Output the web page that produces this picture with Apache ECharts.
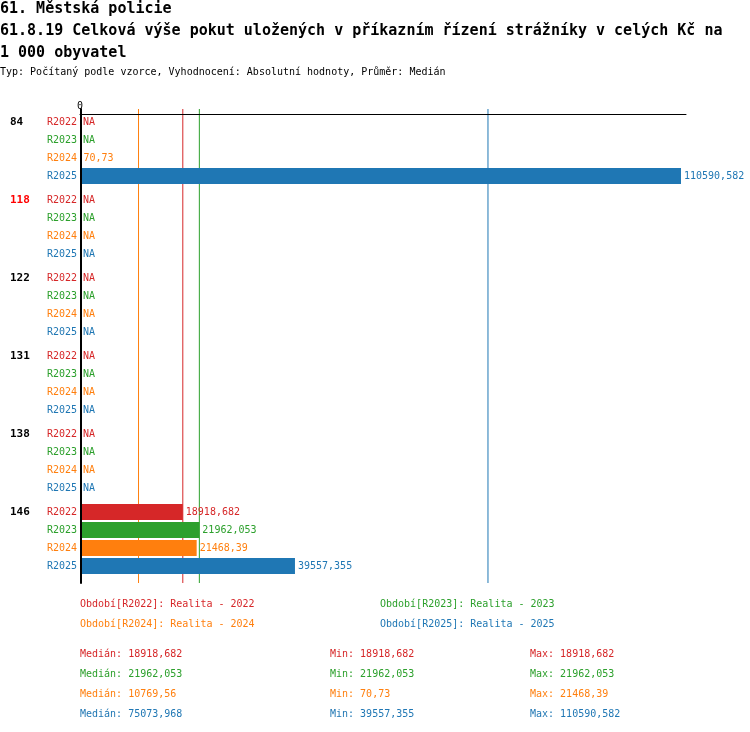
<!DOCTYPE html>
<html><head><meta charset="utf-8">
<script src="https://cdn.jsdelivr.net/npm/echarts@6/dist/echarts.min.js"></script>
<style>html,body{margin:0;padding:0;background:#fff}#c{width:750px;height:732px}</style>
</head><body><div id="c"></div>
<script>
const titleLines = ['61. Městská policie', '61.8.19 Celková výše pokut uložených v příkazním řízení strážníky v celých Kč na', '1 000 obyvatel'];
const subtitle = 'Typ: Počítaný podle vzorce, Vyhodnocení: Absolutní hodnoty, Průměr: Medián';
const categories = ['84', '118', '122', '131', '138', '146'];
const highlighted = '118';
const periods = ['R2022', 'R2023', 'R2024', 'R2025'];
const periodNames = ['Realita - 2022', 'Realita - 2023', 'Realita - 2024', 'Realita - 2025'];
const colors = ['#d62728', '#2ca02c', '#ff7f0e', '#1f77b4'];
const r2022 = [null, null, null, null, null, 18918.682];
const r2023 = [null, null, null, null, null, 21962.053];
const r2024 = [70.73, null, null, null, null, 21468.39];
const r2025 = [110590.582, null, null, null, null, 39557.355];
const values = [r2022, r2023, r2024, r2025];
const xMax = 111512;

const FF = 'DejaVu Sans Mono';
function fmt(v) {
  const r = Math.floor(v * 1000 + 1e-6) / 1000;
  return String(r).replace('.', ',');
}
function stats(arr) {
  const s = arr.filter(v => v != null).sort((a, b) => a - b);
  const n = s.length;
  const med = n % 2 ? s[(n - 1) / 2] : (s[n / 2 - 1] + s[n / 2]) / 2;
  return { med: med, min: s[0], max: s[n - 1] };
}
const st = values.map(stats);

const GL = 80, GR = 64;
const grids = [{ left: GL, right: GR, top: 109, bottom: 149 }];
const xAxes = [{
  gridIndex: 0, type: 'value', position: 'top', min: 0, max: xMax, offset: -5, z: 5,
  axisLine: { show: true, onZero: false, lineStyle: { color: '#000', width: 1 } },
  axisTick: { show: false }, splitLine: { show: false },
  axisLabel: { formatter: v => (v === 0 ? '0' : ''), margin: 3, fontSize: 10, color: '#000', fontFamily: FF }
}];
const yAxes = [{
  gridIndex: 0, type: 'value', min: 0, max: 1, z: 5, offset: -1,
  axisLine: { show: true, onZero: false, lineStyle: { color: '#000', width: 2 } },
  axisTick: { show: false }, axisLabel: { show: false }, splitLine: { show: false }
}];
// median reference lines drawn as vertical line series in the overlay grid
const series = st.map((s, i) => ({
  type: 'line', xAxisIndex: 0, yAxisIndex: 0, z: 1, silent: true, symbol: 'none',
  data: [[s.med, 0], [s.med, 1]],
  lineStyle: { color: colors[i], width: 1 }
}));

categories.forEach((cat, g) => {
  grids.push({ left: GL, right: GR, top: 113 + 78 * g, height: 72 });
  xAxes.push({ gridIndex: g + 1, type: 'value', min: 0, max: xMax, show: false });
  const rich = {
    g: { width: 37, align: 'left', fontWeight: 'bold', fontSize: 11, fontFamily: FF, color: cat === highlighted ? '#ff0000' : '#000' }
  };
  periods.forEach((p, i) => { rich['r' + i] = { color: colors[i], fontSize: 10, fontFamily: FF }; });
  yAxes.push({
    gridIndex: g + 1, type: 'category', inverse: true, data: periods,
    axisLine: { show: false }, axisTick: { show: false }, splitLine: { show: false },
    axisLabel: {
      interval: 0, margin: 3,
      formatter: (v, i) => (i === 0 ? '{g|' + cat + '}{r' + i + '|' + v + '}' : '{r' + i + '|' + v + '}'),
      rich: rich
    }
  });
  series.push({
    type: 'bar', xAxisIndex: g + 1, yAxisIndex: g + 1, barWidth: 16, z: 3, silent: true,
    data: periods.map((p, i) => ({
      value: values[i][g] == null ? 0 : values[i][g],
      na: values[i][g] == null,
      itemStyle: { color: colors[i] },
      label: { color: colors[i] }
    })),
    label: {
      show: true, position: 'right', distance: 3, fontSize: 10, fontFamily: FF,
      formatter: p => (p.data.na ? 'NA' : fmt(p.value))
    }
  });
});

const titles = titleLines.map((t, k) => ({
  text: t, left: 0, top: 2 + 22 * k, padding: 0,
  textStyle: { fontSize: 15, fontWeight: 'bold', fontFamily: FF, color: '#000', lineHeight: 15 }
}));
titles.push({ text: subtitle, left: 0, top: 66, padding: 0,
  textStyle: { fontSize: 10, fontWeight: 'normal', fontFamily: FF, color: '#000', lineHeight: 13 } });
periods.forEach((p, i) => {
  titles.push({
    text: 'Období[' + p + ']: ' + periodNames[i], left: i % 2 === 0 ? 80 : 380, top: (i < 2 ? 604 : 624) - 7, padding: 0,
    textStyle: { fontSize: 10, fontWeight: 'normal', fontFamily: FF, color: colors[i], lineHeight: 14 }
  });
  const top = 654 + 20 * i - 7;
  [['Medián: ' + fmt(st[i].med), 80], ['Min: ' + fmt(st[i].min), 330], ['Max: ' + fmt(st[i].max), 530]].forEach(t => {
    titles.push({
      text: t[0], left: t[1], top: top, padding: 0,
      textStyle: { fontSize: 10, fontWeight: 'normal', fontFamily: FF, color: colors[i], lineHeight: 14 }
    });
  });
});

const chart = echarts.init(document.getElementById('c'));
chart.setOption({
  backgroundColor: '#fff',
  animation: false,
  title: titles,
  grid: grids,
  xAxis: xAxes,
  yAxis: yAxes,
  series: series
});
</script>
</body></html>
